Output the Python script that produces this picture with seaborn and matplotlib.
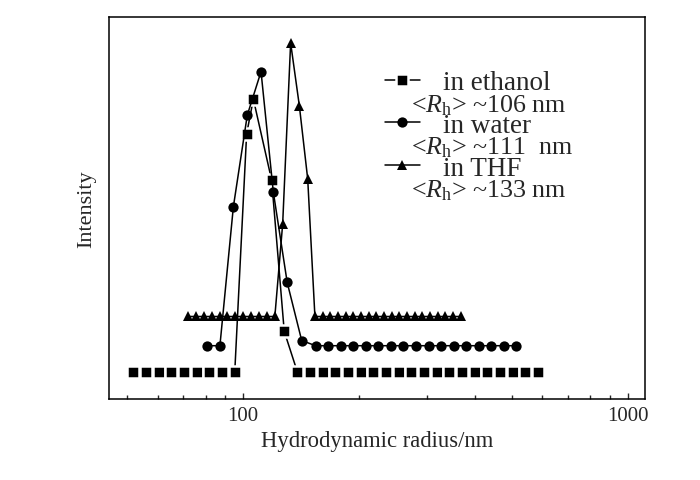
import matplotlib
matplotlib.use("Agg")
import matplotlib.pyplot as plt
import seaborn as sns
import pandas as pd
from matplotlib.ticker import LogLocator, NullFormatter

# ---------------- data ----------------
ethanol_r = [51.9, 56.0, 60.4, 65.1, 70.3, 75.8, 81.8, 88.2, 95.2,
             102.2, 106.4, 118.7, 128.0,
             138.4, 149.3, 161.1, 173.7, 187.4, 202.1, 218.0, 235.2, 253.7, 273.6,
             295.2, 318.5, 343.6, 370.6, 399.9, 431.3, 465.2, 501.8, 541.4, 583.9]
ethanol_i = [0.0715, 0.0715, 0.0715, 0.0715, 0.0715, 0.0715, 0.0715, 0.0715, 0.0715,
             0.694, 0.785, 0.573, 0.177,
             0.0715, 0.0715, 0.0715, 0.0715, 0.0715, 0.0715, 0.0715, 0.0715, 0.0715, 0.0715,
             0.0715, 0.0715, 0.0715, 0.0715, 0.0715, 0.0715, 0.0715, 0.0715, 0.0715, 0.0715]

water_r = [80.5, 87.1,
           94.4, 102.6, 111.4, 119.9, 130.3, 142.1,
           154.5, 166.5, 179.5, 193.5, 208.6, 224.9, 242.4, 261.3, 281.7,
           303.7, 327.4, 352.9, 380.4, 410.1, 442.1, 476.6, 513.8]
water_i = [0.1395, 0.1395,
           0.503, 0.743, 0.857, 0.542, 0.305, 0.153,
           0.1395, 0.1395, 0.1395, 0.1395, 0.1395, 0.1395, 0.1395, 0.1395, 0.1395,
           0.1395, 0.1395, 0.1395, 0.1395, 0.1395, 0.1395, 0.1395, 0.1395]

thf_r = [72.0, 75.5, 79.1, 82.9, 86.9, 91.1, 95.6, 100.2, 105.0, 110.1, 115.4, 121.0,
         126.8, 133.0, 140.1, 147.3,
         153.8, 161.0, 168.6, 176.6, 184.9, 193.6, 202.7, 212.2, 222.2, 232.6,
         243.6, 255.0, 267.0, 279.6, 292.7, 306.5, 320.9, 336.0, 351.8, 368.4]
thf_i = [0.216, 0.216, 0.216, 0.216, 0.216, 0.216, 0.216, 0.216, 0.216, 0.216, 0.216, 0.216,
         0.458, 0.932, 0.768, 0.576,
         0.216, 0.216, 0.216, 0.216, 0.216, 0.216, 0.216, 0.216, 0.216, 0.216,
         0.216, 0.216, 0.216, 0.216, 0.216, 0.216, 0.216, 0.216, 0.216, 0.216]

series_labels = ["in ethanol", "in water", "in THF"]
rh_values = ["106 nm", "111  nm", "133 nm"]
xtick_values = [100, 1000]
xtick_labels = ["100", "1000"]
x_label = "Hydrodynamic radius/nm"
y_label = "Intensity"

# ---------------- style ----------------
sns.set_style("ticks")
plt.rcParams["font.family"] = ["Liberation Serif", "DejaVu Serif"]
plt.rcParams["mathtext.fontset"] = "custom"
plt.rcParams["mathtext.rm"] = "Liberation Serif"
plt.rcParams["mathtext.it"] = "Liberation Serif:italic"

fig = plt.figure(figsize=(7.0, 4.81), dpi=100)
ax = fig.add_axes([0.156, 0.1684, 0.765, 0.7942])

frames = [
    pd.DataFrame({"r": ethanol_r, "I": ethanol_i}),
    pd.DataFrame({"r": water_r, "I": water_i}),
    pd.DataFrame({"r": thf_r, "I": thf_i}),
]
styles = [
    dict(marker="s", markersize=8.3, markeredgecolor="white", markeredgewidth=1.8),
    dict(marker="o", markersize=7.4, markeredgecolor="black", markeredgewidth=0),
    dict(marker="^", markersize=7.6, markeredgecolor="black", markeredgewidth=0),
]
for df, lab, st in zip(frames, series_labels, styles):
    sns.lineplot(data=df, x="r", y="I", ax=ax, color="black", linewidth=1.1,
                 estimator=None, sort=False, label=lab, markerfacecolor="black", **st)

ax.set_xscale("log")
ax.set_xlim(44.9, 1107)
ax.set_ylim(0, 1)
ax.set_yticks([])
ax.set_xticks(xtick_values)
ax.set_xticklabels(xtick_labels)
ax.xaxis.set_minor_locator(LogLocator(base=10, subs=[2, 3, 4, 5, 6, 7, 8, 9]))
ax.xaxis.set_minor_formatter(NullFormatter())
ax.tick_params(axis="x", which="major", direction="in", length=4.5, width=1.0,
               labelsize=15, pad=5, bottom=True, top=False)
ax.tick_params(axis="x", which="minor", direction="in", length=2.6, width=1.0,
               bottom=True, top=False)
ax.tick_params(axis="y", left=False, right=False)
for sp in ax.spines.values():
    sp.set_linewidth(1.1)
    sp.set_color("black")
    sp.set_visible(True)

ax.set_xlabel(x_label, fontsize=16.3, labelpad=4)
ax.set_ylabel(y_label, fontsize=16, labelpad=9)

handles, labels = ax.get_legend_handles_labels()
leg = ax.legend(handles, labels, loc="upper left", bbox_to_anchor=(0.515, 0.861),
                frameon=False, fontsize=19.5, handlelength=1.29, handletextpad=0.85,
                labelspacing=0.66, borderpad=0, borderaxespad=0)

rh_y = [0.770, 0.660, 0.548]
for txt, yy in zip(rh_values, rh_y):
    ax.text(0.5634, yy, r"<$\mathit{R}_{\mathrm{h}}$> ~" + txt, transform=ax.transAxes,
            fontsize=18.7, ha="left", va="center")

fig.savefig("out.png", dpi=100)
